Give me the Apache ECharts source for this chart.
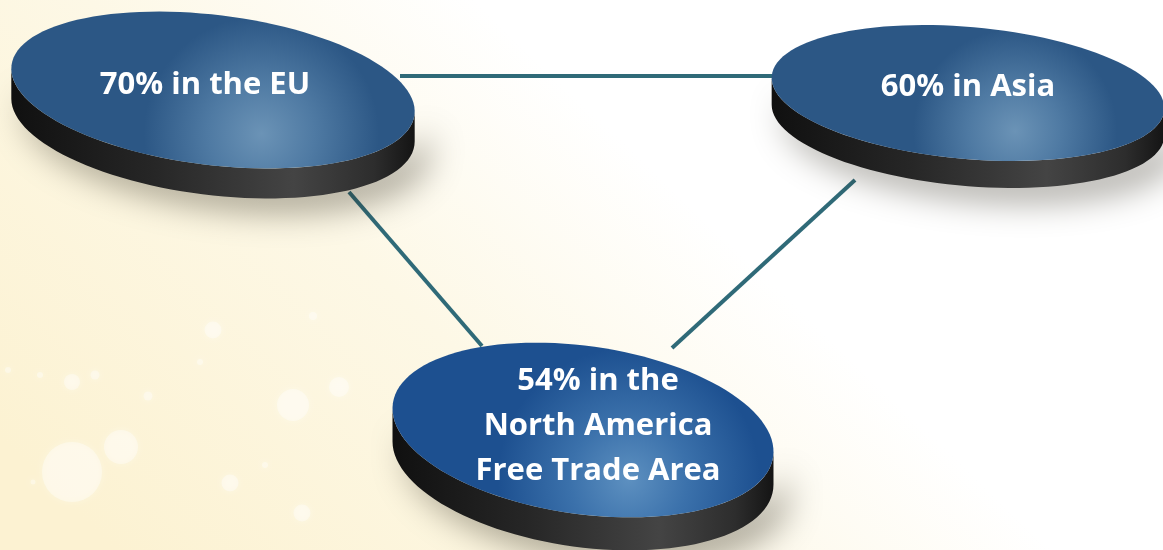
<!DOCTYPE html>
<html>
<head>
<meta charset="utf-8">
<title>Trade within regions</title>
<script src="https://cdn.jsdelivr.net/npm/echarts@6/dist/echarts.min.js"></script>
<style>
  html, body { margin: 0; padding: 0; }
  #chart { width: 1163px; height: 550px; }
</style>
</head>
<body>
<div id="chart"></div>
<script>
// regions and share of trade inside each bloc
const regions = ['EU', 'Asia', 'NAFTA']
const labels = ['70% in the EU', '60% in Asia', '54% in the\nNorth America\nFree Trade Area']
const shares = [70, 60, 54]
const nodeX = [213, 968, 583]
const nodeY = [90, 93, 430]

// links between the blocs (endpoints in diagram units)
const links = [
  [[400, 76], [780, 76]],
  [[349, 192], [482, 346]],
  [[855, 180], [672, 348]],
]

// background bokeh dots [x, y, size]
const bokeh = [
  [72, 472, 60], [121, 447, 34], [293, 405, 32], [339, 387, 20], [213, 330, 17],
  [230, 483, 17], [302, 513, 17], [72, 382, 16], [95, 375, 9], [148, 396, 9],
  [40, 375, 6], [265, 465, 6], [8, 370, 6], [200, 362, 6], [313, 316, 8], [33, 482, 5],
]

// look of each disc
const disc = [
  {rx: 203, ry: 75, tilt: 7, depth: 30, dx: -8, dy: -5, top: ['#6b93b6', '#4f7aa3', '#2c5785']},
  {rx: 197, ry: 66, tilt: 5, depth: 27, dx: 0, dy: -6, top: ['#6b93b6', '#4f7aa3', '#2c5785']},
  {rx: 192, ry: 84, tilt: 8, depth: 33, dx: 15, dy: -4, top: ['#5d90c0', '#3b71ab', '#1d5090']},
]

const chart = echarts.init(document.getElementById('chart'))

function ellipsePts(c, s, t0, t1, n, dy) {
  const th = s.tilt * Math.PI / 180
  const pts = []
  for (let k = 0; k <= n; k++) {
    const t = t0 + (t1 - t0) * k / n
    pts.push([
      c[0] + s.rx * Math.cos(t) * Math.cos(th) - s.ry * Math.sin(t) * Math.sin(th),
      c[1] + s.rx * Math.cos(t) * Math.sin(th) + s.ry * Math.sin(t) * Math.cos(th) + dy,
    ])
  }
  return pts
}

function renderDisc(params, api) {
  const i = params.dataIndex
  const s = disc[i]
  const c = api.coord([api.value(0), api.value(1)])
  const th = s.tilt * Math.PI / 180
  const phi = Math.atan2(s.ry * Math.sin(th), s.rx * Math.cos(th))
  const lowFront = ellipsePts(c, s, -phi, Math.PI - phi, 60, s.depth)
  const lowBack = ellipsePts(c, s, -phi, Math.PI - phi, 60, 0).reverse()
  return {
    type: 'group',
    children: [
      {
        type: 'polygon',
        shape: {points: lowFront.concat(lowBack)},
        style: {
          fill: new echarts.graphic.LinearGradient(0, 0, 1, 0, [
            {offset: 0, color: '#101010'},
            {offset: 0.35, color: '#262626'},
            {offset: 0.7, color: '#444444'},
            {offset: 0.9, color: '#2d2d2d'},
            {offset: 1, color: '#141414'},
          ]),
          shadowBlur: 34,
          shadowColor: 'rgba(40,35,20,0.45)',
          shadowOffsetX: 14,
          shadowOffsetY: 12,
        },
      },
      {
        type: 'polygon',
        shape: {points: ellipsePts(c, s, 0, Math.PI * 2, 120, 0)},
        style: {
          fill: new echarts.graphic.RadialGradient(0.62, 0.78, 0.75, [
            {offset: 0, color: s.top[0]},
            {offset: 0.45, color: s.top[1]},
            {offset: 1, color: s.top[2]},
          ]),
        },
      },
      {
        type: 'text',
        style: {
          text: labels[i],
          x: c[0] + s.dx,
          y: c[1] + s.dy,
          align: 'center',
          verticalAlign: 'middle',
          fill: '#ffffff',
          font: 'bold 31px "Open Sans"',
          lineHeight: 45,
        },
      },
    ],
  }
}

const option = {
  animation: false,
  graphic: [{
    type: 'rect',
    z: -10,
    shape: {x: 0, y: 0, width: 1163, height: 550},
    style: {
      fill: new echarts.graphic.LinearGradient(0.1, 1, 0.55, 0, [
        {offset: 0, color: '#fcf2d2'},
        {offset: 0.5, color: '#fdf8e6'},
        {offset: 0.85, color: '#ffffff'},
      ]),
    },
  }],
  grid: {left: 0, right: 0, top: 0, bottom: 0},
  xAxis: {type: 'value', min: 0, max: 1163, show: false},
  yAxis: {type: 'value', min: 0, max: 550, inverse: true, show: false},
  series: [
    {
      name: 'bokeh',
      type: 'scatter',
      silent: true,
      z: 1,
      data: bokeh.map(b => [b[0], b[1]]),
      symbolSize: (v, p) => bokeh[p.dataIndex][2],
      itemStyle: {color: 'rgba(255,255,255,0.45)', shadowBlur: 6, shadowColor: 'rgba(255,255,255,0.7)'},
    },
    {
      name: 'links',
      type: 'lines',
      coordinateSystem: 'cartesian2d',
      silent: true,
      z: 2,
      data: links.map(l => ({coords: l})),
      lineStyle: {color: '#2f6a78', width: 4, opacity: 1},
    },
    {
      name: 'regions',
      type: 'custom',
      coordinateSystem: 'cartesian2d',
      z: 3,
      data: regions.map((r, i) => ({name: r, value: [nodeX[i], nodeY[i], shares[i]]})),
      renderItem: renderDisc,
    },
  ],
}

chart.setOption(option)
</script>
</body>
</html>
